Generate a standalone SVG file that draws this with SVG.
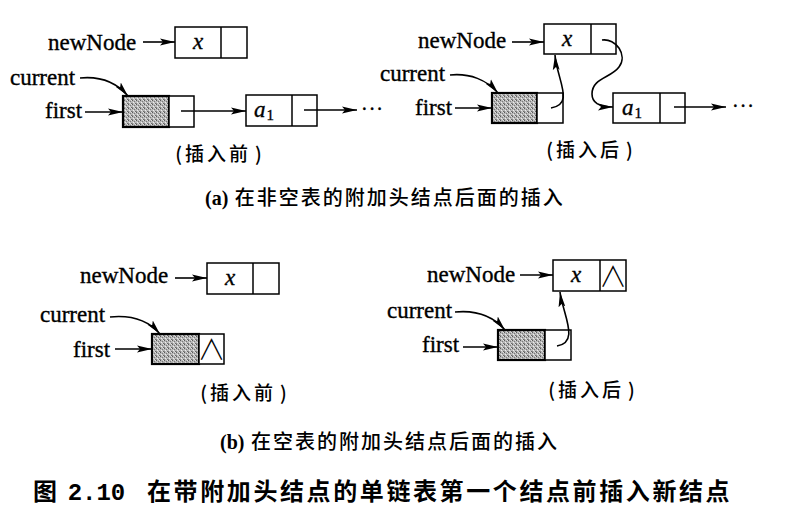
<svg xmlns="http://www.w3.org/2000/svg" width="799" height="529" viewBox="0 0 799 529">
<defs>
<pattern id="grain" width="4" height="4" patternUnits="userSpaceOnUse">
<rect width="4" height="4" fill="#b8b8b8"/>
<rect x="0" y="0" width="1" height="1" fill="#5a5a5a"/>
<rect x="2" y="1" width="1" height="1" fill="#7a7a7a"/>
<rect x="1" y="2" width="1" height="1" fill="#eeeeee"/>
<rect x="3" y="3" width="1" height="1" fill="#6a6a6a"/>
<rect x="3" y="0" width="1" height="1" fill="#e0e0e0"/>
<rect x="0" y="3" width="1" height="1" fill="#8a8a8a"/>
<rect x="2" y="3" width="1" height="1" fill="#d8d8d8"/>
</pattern>
<marker id="ah" markerUnits="userSpaceOnUse" markerWidth="16" markerHeight="8" refX="15" refY="4" orient="auto" viewBox="0 0 16 8">
<path d="M0,0.6 L15,4 L0,7.4 L3,4 z" fill="#000"/>
</marker>
</defs>
<style>
.box{fill:#fff;stroke:#000;stroke-width:1.5}
.head{fill:url(#grain);stroke:#000;stroke-width:2.2}
.ln{fill:none;stroke:#000;stroke-width:1.5}
.arr{fill:none;stroke:#000;stroke-width:1.6;marker-end:url(#ah)}
.lbl{font-family:"Liberation Serif",serif;font-size:23px;fill:#000;stroke:#000;stroke-width:0.35}
.var{font-family:"Liberation Serif",serif;font-style:italic;font-size:23px;fill:#000;stroke:#000;stroke-width:0.35}
.sub{font-family:"Liberation Serif",serif;font-style:normal;font-size:15px}
.cn{font-family:"Noto Sans CJK SC",sans-serif;font-size:19px;font-weight:500;letter-spacing:3px;fill:#000}
.cap{font-family:"Noto Sans CJK SC",sans-serif;font-size:20px;font-weight:500;letter-spacing:2px;fill:#000}
.capl{font-family:"Liberation Serif",serif;font-weight:bold;letter-spacing:0}
.fig{font-family:"Noto Sans CJK SC",sans-serif;font-size:24px;font-weight:bold;letter-spacing:2.6px;fill:#000}
.nil{font-family:"Noto Sans CJK SC",sans-serif;font-weight:300;font-size:28px;fill:#000}
.dots{font-family:"Liberation Serif",serif;font-size:20px;letter-spacing:1px;fill:#000;stroke:#000;stroke-width:0.4}
</style>

<!-- (a) before -->
<g id="a-before-newNode-label"><text class="lbl" x="48" y="50">newNode</text></g>
<g id="a-before-newNode">
<rect class="box" x="175" y="27" width="72" height="31"/>
<line class="ln" x1="221" y1="27" x2="221" y2="58"/>
<text class="var" x="198" y="49" text-anchor="middle">x</text>
</g>
<g id="a-before-current-label"><text class="lbl" x="10" y="85">current</text></g>
<g id="a-before-first-label"><text class="lbl" x="45" y="118">first</text></g>
<g id="a-before-head">
<rect class="head" x="123" y="96" width="46" height="31"/>
<rect class="box" x="169" y="96" width="25" height="31"/>
</g>
<g id="a-before-a1">
<rect class="box" x="246" y="95" width="71" height="31"/>
<line class="ln" x1="292" y1="95" x2="292" y2="126"/>
<text class="var" x="264" y="117" text-anchor="middle">a<tspan class="sub" dx="1" dy="3">1</tspan></text>
</g>
<g id="a-before-more"><text class="dots" x="361" y="116">···</text></g>
<g id="a-before-caption"><text class="cn" x="220" y="161" text-anchor="middle">(插入前<tspan dx="4">)</tspan></text></g>

<!-- (a) after -->
<g id="a-after-newNode-label"><text class="lbl" x="418" y="48">newNode</text></g>
<g id="a-after-newNode">
<rect class="box" x="544" y="24" width="72" height="30"/>
<line class="ln" x1="591" y1="24" x2="591" y2="54"/>
<text class="var" x="567" y="46" text-anchor="middle">x</text>
</g>
<g id="a-after-current-label"><text class="lbl" x="380" y="81">current</text></g>
<g id="a-after-first-label"><text class="lbl" x="415" y="115">first</text></g>
<g id="a-after-head">
<rect class="head" x="492" y="93" width="45" height="30"/>
<rect class="box" x="537" y="93" width="26" height="30"/>
</g>
<g id="a-after-a1">
<rect class="box" x="613" y="93" width="72" height="30"/>
<line class="ln" x1="660" y1="93" x2="660" y2="123"/>
<text class="var" x="632" y="115" text-anchor="middle">a<tspan class="sub" dx="1" dy="3">1</tspan></text>
</g>
<g id="a-after-more"><text class="dots" x="732" y="113">···</text></g>
<g id="a-after-caption"><text class="cn" x="591" y="157" text-anchor="middle">(插入后<tspan dx="4">)</tspan></text></g>

<g id="caption-a"><text class="cap" x="205" y="205"><tspan class="capl">(a)</tspan> 在非空表的附加头结点后面的插入</text></g>

<!-- (b) before -->
<g id="b-before-newNode-label"><text class="lbl" x="80" y="283">newNode</text></g>
<g id="b-before-newNode">
<rect class="box" x="207" y="263" width="72" height="31"/>
<line class="ln" x1="253" y1="263" x2="253" y2="294"/>
<text class="var" x="230" y="285" text-anchor="middle">x</text>
</g>
<g id="b-before-current-label"><text class="lbl" x="40" y="322">current</text></g>
<g id="b-before-first-label"><text class="lbl" x="73" y="357">first</text></g>
<g id="b-before-head">
<rect class="head" x="152" y="334" width="47" height="30"/>
<rect class="box" x="199" y="334" width="25" height="30"/>
<text class="nil" x="211.5" y="360" text-anchor="middle">∧</text>
</g>
<g id="b-before-caption"><text class="cn" x="245" y="400" text-anchor="middle">(插入前<tspan dx="4">)</tspan></text></g>

<!-- (b) after -->
<g id="b-after-newNode-label"><text class="lbl" x="427" y="282">newNode</text></g>
<g id="b-after-newNode">
<rect class="box" x="553" y="260" width="73" height="31"/>
<line class="ln" x1="600" y1="260" x2="600" y2="291"/>
<text class="var" x="576" y="282" text-anchor="middle">x</text>
<text class="nil" x="613" y="287" text-anchor="middle">∧</text>
</g>
<g id="b-after-current-label"><text class="lbl" x="387" y="318">current</text></g>
<g id="b-after-first-label"><text class="lbl" x="422" y="352">first</text></g>
<g id="b-after-head">
<rect class="head" x="498" y="330" width="47" height="30"/>
<rect class="box" x="545" y="330" width="26" height="30"/>
</g>
<g id="b-after-caption"><text class="cn" x="593" y="397" text-anchor="middle">(插入后<tspan dx="4">)</tspan></text></g>

<g id="caption-b"><text class="cap" x="220" y="449"><tspan class="capl">(b)</tspan> 在空表的附加头结点后面的插入</text></g>

<g id="figure-caption"><text class="fig" x="33" y="500">图 <tspan font-family="Liberation Mono, monospace" font-weight="bold" letter-spacing="0">2.10</tspan><tspan x="147">在带附加头结点的单链表第一个结点前插入新结点</tspan></text></g>

<g id="connectors">
<!-- (a) before -->
<path class="arr" d="M143,42 H175"/>
<path class="arr" d="M80,78 C100,76 116,82 128,96"/>
<path class="arr" d="M85,112 H123"/>
<path class="arr" d="M181,111 H246"/>
<path class="arr" d="M304,110 H357"/>
<!-- (a) after -->
<path class="arr" d="M512,42 H544"/>
<path class="arr" d="M450,75 C470,73 487,80 498,93"/>
<path class="arr" d="M455,108 H492"/>
<path class="arr" d="M551,108 C575,104 557,80 555,55"/>
<path class="arr" d="M602,40 C616,38 628,55 619,67 C611,78 592,78 592,94 C592,103 600,107 613,107"/>
<path class="arr" d="M674,107 H726"/>
<!-- (b) before -->
<path class="arr" d="M175,278 H207"/>
<path class="arr" d="M110,317 C130,315 148,320 160,334"/>
<path class="arr" d="M115,349 H152"/>
<!-- (b) after -->
<path class="arr" d="M520,275 H553"/>
<path class="arr" d="M455,312 C475,310 493,316 505,330"/>
<path class="arr" d="M463,347 H498"/>
<path class="arr" d="M557,346 C580,342 563,315 560,292"/>
</g>
</svg>
